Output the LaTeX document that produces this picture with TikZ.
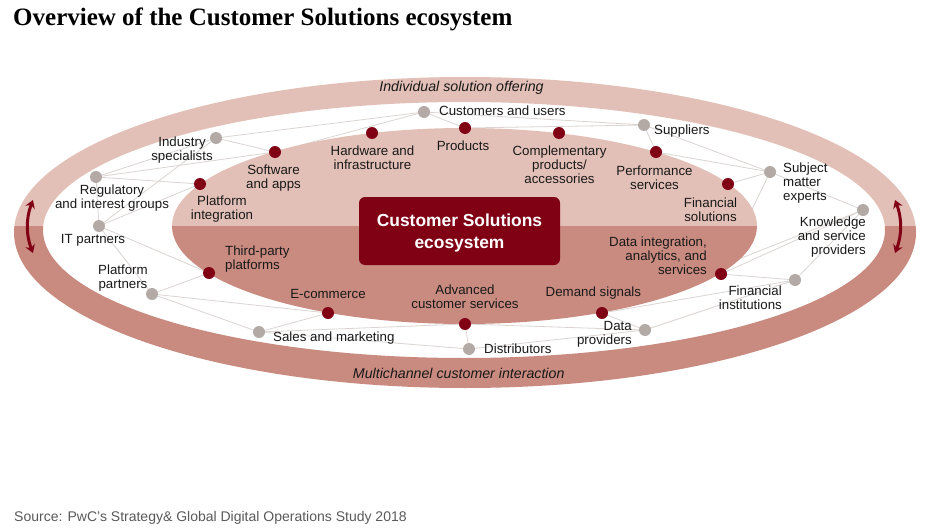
\documentclass[tikz,border=0pt]{standalone}
\usepackage{fontspec}
\setmainfont{Liberation Sans}
\newfontfamily\titlefont{Liberation Serif}
\usetikzlibrary{arrows.meta}
\definecolor{lightring}{RGB}{227,192,183}
\definecolor{darkring}{RGB}{201,138,128}
\definecolor{wine}{RGB}{128,0,20}
\definecolor{dotgray}{RGB}{180,170,165}
\definecolor{linkgray}{RGB}{218,213,210}
\definecolor{txt}{RGB}{25,25,25}
\definecolor{srcgray}{RGB}{90,90,90}
\pgfdeclarelayer{ringlayer}
\pgfdeclarelayer{linklayer}
\pgfdeclarelayer{corelayer}
\pgfsetlayers{ringlayer,linklayer,corelayer,main}
\begin{document}
\begin{tikzpicture}[x=1pt,y=-1pt,
  rdot/.style={circle,fill=wine,minimum size=12pt,inner sep=0pt},
  gdot/.style={circle,fill=dotgray,minimum size=12pt,inner sep=0pt},
  lbl/.style={font=\fontsize{13.3}{14}\selectfont,text=txt,inner sep=0pt},
  ringlbl/.style={font=\fontsize{14.2}{16}\selectfont\itshape,text=txt,inner sep=0pt},
  link/.style={draw=linkgray,line width=0.8pt},
  arr/.style={draw=wine,line width=3pt,{Stealth[length=8pt,width=10pt]}-{Stealth[length=8pt,width=10pt]}}]
\useasboundingbox (0,0) rectangle (930,530);

% ---------- ring ----------
\begin{pgfonlayer}{ringlayer}
\fill[white] (0,0) rectangle (930,530);
\begin{scope}
  \clip (0,0) rectangle (930,226);
  \fill[lightring,even odd rule] (465,232.5) ellipse [x radius=451pt,y radius=155.5pt]
        (464,230) ellipse [x radius=421pt,y radius=128pt];
\end{scope}
\begin{scope}
  \clip (0,226) rectangle (930,530);
  \fill[darkring,even odd rule] (465,232.5) ellipse [x radius=451pt,y radius=155.5pt]
        (464,230) ellipse [x radius=421pt,y radius=128pt];
\end{scope}
\end{pgfonlayer}

% ---------- core ----------
\begin{pgfonlayer}{corelayer}
\begin{scope}
  \clip (0,0) rectangle (930,226);
  \fill[lightring] (464.5,226) ellipse [x radius=292.5pt,y radius=98pt];
\end{scope}
\begin{scope}
  \clip (0,226) rectangle (930,530);
  \fill[darkring] (464.5,226) ellipse [x radius=292.5pt,y radius=98pt];
\end{scope}
\end{pgfonlayer}

% ---------- title and source ----------
\node[anchor=base west,inner sep=0pt,text=black,font=\titlefont\bfseries\fontsize{25}{27}\selectfont] (title) at (13,25) {Overview of the Customer Solutions ecosystem};
\node[anchor=base west,inner sep=0pt,text=srcgray,font=\fontsize{14}{16}\selectfont] (source) at (14,521.7) {Source: PwC’s Strategy\& Global Digital Operations Study 2018};

% ---------- ring labels and arrows ----------
\node[ringlbl] (ringtop) at (461.5,88) {Individual solution offering};
\node[ringlbl] (ringbot) at (458.7,373) {Multichannel customer interaction};
\coordinate (la) at (33,200); \coordinate (lb) at (33,253);
\coordinate (ra) at (895,200); \coordinate (rb) at (895,253);
\draw[arr] (la) .. controls (26,218) and (26,235) .. (lb);
\draw[arr] (ra) .. controls (902,218) and (902,235) .. (rb);

% ---------- center box ----------
\node[fill=wine,rounded corners=6pt,minimum width=201pt,minimum height=68pt,inner sep=0pt] (box) at (459.5,231) {};
\node[text=white,font=\fontsize{17.4}{21}\selectfont\bfseries,align=center,inner sep=0pt] (boxtext) at (459.5,233) {Customer Solutions\\ecosystem};

% ---------- outer (gray) nodes ----------
\node[gdot] (cu)   at (424,112) {};
\node[gdot] (ind)  at (216,138) {};
\node[gdot] (reg)  at (96,177) {};
\node[gdot] (it)   at (99,226) {};
\node[gdot] (pp)   at (152,294) {};
\node[gdot] (sm)   at (259,332) {};
\node[gdot] (dist) at (469,349) {};
\node[gdot] (dp)   at (645,330) {};
\node[gdot] (fi)   at (795,280) {};
\node[gdot] (kn)   at (863,210) {};
\node[gdot] (sme)  at (770,172) {};
\node[gdot] (sup)  at (644,125) {};

% ---------- inner (red) nodes ----------
\node[rdot] (sw)   at (275,152) {};
\node[rdot] (hw)   at (372,133) {};
\node[rdot] (prod) at (465,128) {};
\node[rdot] (comp) at (559,133) {};
\node[rdot] (perf) at (656,152) {};
\node[rdot] (fs)   at (728,184) {};
\node[rdot] (pi)   at (200,184) {};
\node[rdot] (tp)   at (209,273) {};
\node[rdot] (ec)   at (328,313) {};
\node[rdot] (adv)  at (465,324) {};
\node[rdot] (dem)  at (602,313) {};
\node[rdot] (di)   at (721,274) {};

% ---------- labels ----------
\node[lbl,anchor=west] (lcu) at (439,111) {Customers and users};
\node[lbl,align=center] (lind) at (182,150) {Industry\\specialists};
\node[lbl,align=center] (lreg) at (112,198) {Regulatory\\and interest groups};
\node[lbl] (lit) at (93,240) {IT partners};
\node[lbl,align=center] (lpp) at (123,278) {Platform\\partners};
\node[lbl,anchor=west] (lsm) at (273,338) {Sales and marketing};
\node[lbl,anchor=west] (ldist) at (484,349) {Distributors};
\node[lbl,align=right,anchor=east] (ldp) at (632,334) {Data\\providers};
\node[lbl,align=right,anchor=east] (lfi) at (782,298) {Financial\\institutions};
\node[lbl,align=right,anchor=east] (lkn) at (866,237) {Knowledge\\and service\\providers};
\node[lbl,align=left,anchor=west] (lsme) at (783,183) {Subject\\matter\\experts};
\node[lbl,anchor=west] (lsup) at (654,131) {Suppliers};
\node[lbl,align=center] (lsw) at (273.5,178) {Software\\and apps};
\node[lbl,align=center] (lhw) at (372.5,157.5) {Hardware and\\infrastructure};
\node[lbl] (lprod) at (463,146) {Products};
\node[lbl,align=center] (lcomp) at (559.5,165) {Complementary\\products/\\accessories};
\node[lbl,align=center] (lperf) at (654.5,178) {Performance\\services};
\node[lbl,align=center] (lfs) at (710.5,209.5) {Financial\\solutions};
\node[lbl,align=center] (lpi) at (222,209.5) {Platform\\integration};
\node[lbl,align=left,anchor=west] (ltp) at (225,259) {Third-party\\platforms};
\node[lbl] (lec) at (328,294) {E-commerce};
\node[lbl,align=center] (ladv) at (465,296.5) {Advanced\\customer services};
\node[lbl] (ldem) at (593.4,293) {Demand signals};
\node[lbl,align=right,anchor=east] (ldi) at (707,255.5) {Data integration,\\analytics, and\\services};

% ---------- connectors ----------
\begin{pgfonlayer}{linklayer}
\foreach \a/\b in {cu/ind, cu/sw, ind/sw, cu/prod, cu/sup, prod/sup,
  reg/ind, reg/sw, reg/pi, reg/it, it/ind, it/pi, it/tp, it/pp,
  pp/tp, pp/ec, pp/sm, sm/ec, sm/adv, sm/dist, adv/dist, adv/dp,
  dist/dp, dem/dp, dem/fi, dp/fi, di/fi, kn/di, kn/dem, kn/fi,
  kn/sme, sme/di, sme/fs, sme/perf, sme/sup, sup/perf}
  \draw[link] (\a.center) -- (\b.center);
\end{pgfonlayer}
\end{tikzpicture}
\end{document}
